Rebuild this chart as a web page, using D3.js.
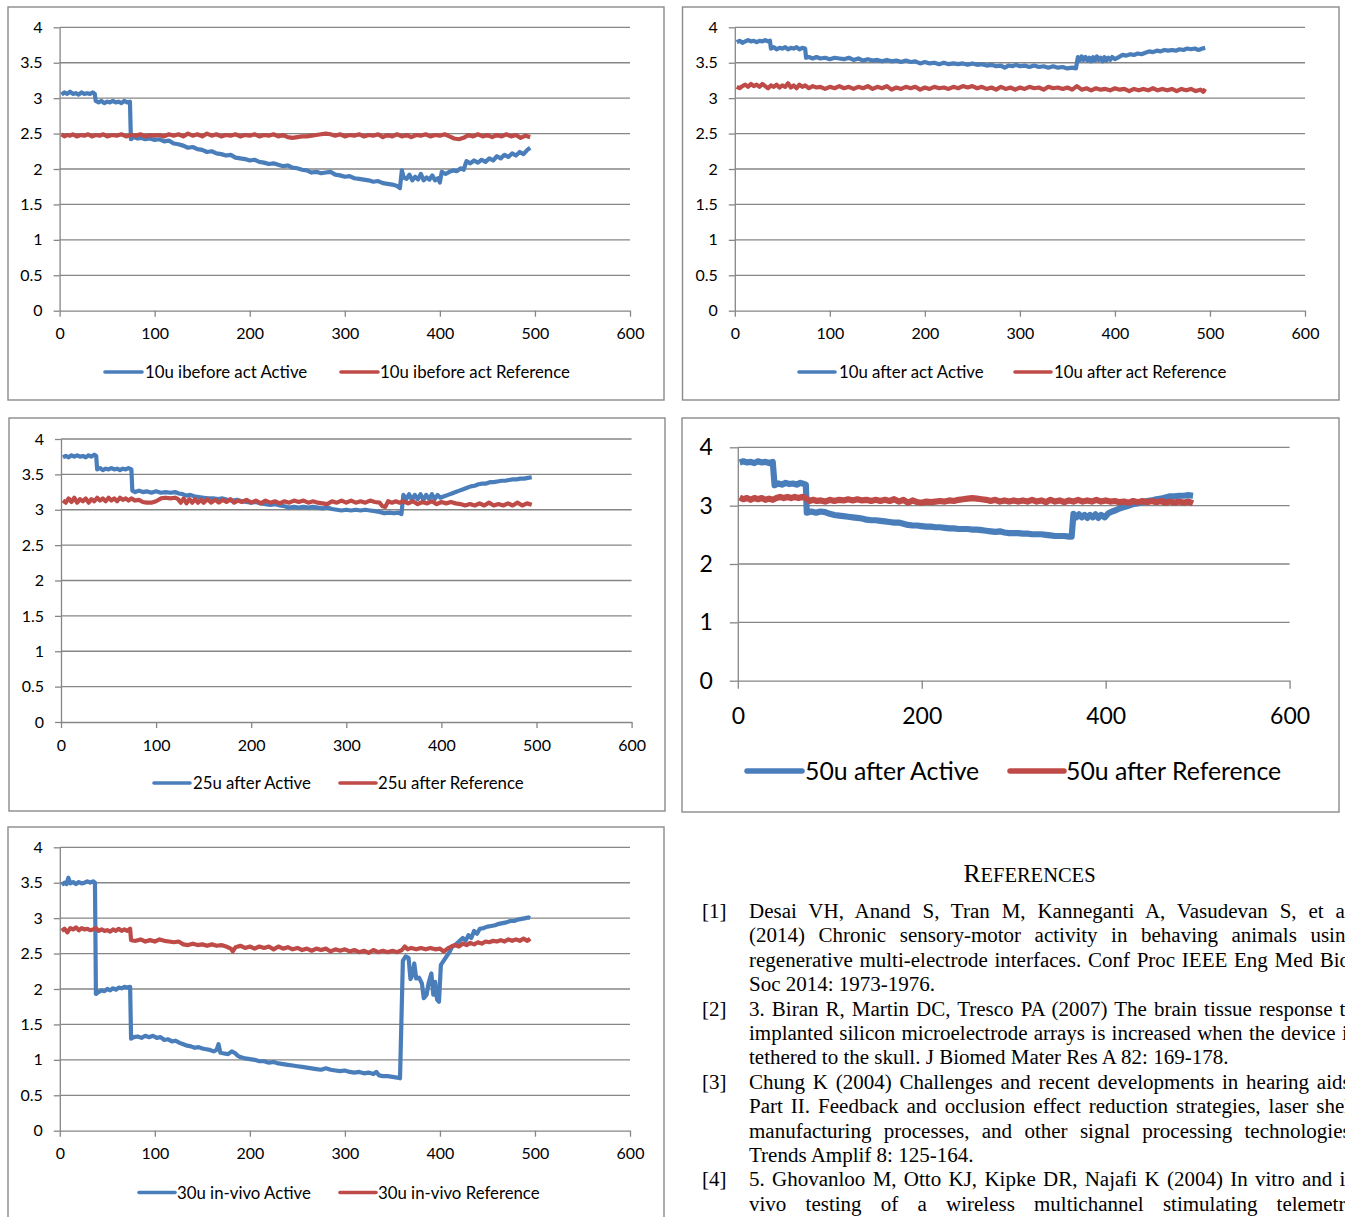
<!DOCTYPE html>
<html>
<head>
<meta charset="utf-8">
<script src="https://cdn.jsdelivr.net/npm/d3@7"></script>
<style>
  html, body { margin: 0; padding: 0; background: #fff; overflow: hidden; }
  #page { position: relative; width: 1345px; height: 1217px; overflow: hidden; }
  #page svg { position: absolute; left: 0; top: 0; }
  .refline {
    position: absolute;
    font-family: "Liberation Serif", "Times New Roman", serif;
    font-size: 20px;
    line-height: 24.4px;
    white-space: nowrap;
    transform-origin: 0 0;
    transform: scaleX(1.05);
    color: #000;
  }
  .just { text-align: justify; text-align-last: justify; }
</style>
</head>
<body>
<div id="page"></div>
<script>
window.onload = () => {

  // ---- data ----
  const xTicks = [0, 100, 200, 300, 400, 500, 600];
  const yTicks = [0, 0.5, 1, 1.5, 2, 2.5, 3, 3.5, 4];
  const xTicksWide = [0, 200, 400, 600];
  const yTicksWide = [0, 1, 2, 3, 4];

  const c1Names = ['10u ibefore act Active', '10u ibefore act Reference'];
  const c2Names = ['10u after act Active', '10u after act Reference'];
  const c3Names = ['25u after Active', '25u after Reference'];
  const c4Names = ['50u after Active', '50u after Reference'];
  const c5Names = ['30u in-vivo Active', '30u in-vivo Reference'];

  const c1Active = [[2,3.05],[5,3.08],[8,3.06],[11,3.09],[14,3.06],[17,3.07],[20,3.05],[23,3.08],[26,3.06],[29,3.07],[32,3.06],[35,3.08],[37,3.06],
    [38,2.96],[41,2.94],[44,2.96],[47,2.93],[50,2.95],[53,2.94],[56,2.96],[59,2.94],[62,2.95],[65,2.93],[68,2.96],[71,2.94],[74,2.95],
    [75,2.42],[78,2.45],[82,2.43],[86,2.44],[90,2.42],[95,2.43],[100,2.41],[105,2.42],[110,2.39],[115,2.40],[120,2.36],[125,2.35],[130,2.33],[135,2.30],[140,2.31],[145,2.28],[150,2.27],[155,2.24],[160,2.25],[165,2.22],[170,2.21],[175,2.19],[180,2.20],[185,2.16],[190,2.15],[195,2.14],[200,2.12],[205,2.13],[210,2.10],[215,2.09],[220,2.07],[225,2.08],[230,2.06],[235,2.04],[240,2.05],[245,2.02],[250,2.01],[255,1.99],[260,1.98],[265,1.95],[270,1.96],[275,1.94],[280,1.95],[285,1.96],[290,1.92],[295,1.91],[300,1.89],[305,1.90],[310,1.87],[315,1.86],[320,1.85],[325,1.84],[330,1.82],[335,1.83],[340,1.80],[345,1.79],[350,1.78],[355,1.76],[358,1.73],
    [360,1.98],[362,1.88],[365,1.86],[368,1.92],[371,1.84],[374,1.89],[377,1.85],[380,1.93],[383,1.84],[386,1.88],[389,1.85],[392,1.91],[395,1.84],[398,1.87],[400,1.81],[402,1.96],[406,1.93],[410,1.96],[414,1.98],[418,1.97],[422,2.01],[425,1.99],[428,2.11],[432,2.08],[436,2.12],[440,2.09],[444,2.13],[448,2.10],[452,2.15],[456,2.12],[460,2.18],[464,2.15],[468,2.20],[472,2.17],[476,2.22],[480,2.19],[484,2.24],[488,2.21],[492,2.27],[495,2.30]];
  const c1Reference = [[2,2.49],[5,2.46],[8,2.48],[11,2.47],[14,2.49],[18,2.46],[22,2.48],[26,2.47],[30,2.49],[34,2.46],[38,2.48],[42,2.47],[46,2.49],[50,2.46],[55,2.48],[60,2.47],[65,2.49],[70,2.46],[75,2.48],[80,2.47],[85,2.49],[90,2.46],[95,2.48],[100,2.47],[105,2.48],[110,2.46],[115,2.49],[120,2.47],[125,2.49],[130,2.46],[135,2.50],[140,2.47],[145,2.49],[150,2.46],[155,2.50],[160,2.47],[165,2.49],[170,2.46],[175,2.48],[180,2.47],[185,2.49],[190,2.46],[195,2.48],[200,2.47],[205,2.49],[210,2.46],[215,2.48],[220,2.47],[225,2.49],[230,2.46],[235,2.48],[240,2.45],[245,2.44],[250,2.45],[255,2.46],[260,2.46],[265,2.47],[270,2.48],[275,2.49],[280,2.50],[285,2.49],[290,2.47],[295,2.49],[300,2.46],[305,2.48],[310,2.47],[315,2.49],[320,2.46],[325,2.48],[330,2.47],[335,2.49],[340,2.45],[345,2.48],[350,2.46],[355,2.49],[360,2.46],[365,2.48],[370,2.45],[375,2.48],[380,2.47],[385,2.49],[390,2.46],[395,2.48],[400,2.47],[405,2.49],[410,2.46],[415,2.43],[420,2.42],[425,2.44],[430,2.48],[435,2.46],[440,2.49],[445,2.46],[450,2.48],[455,2.45],[460,2.48],[465,2.46],[470,2.49],[475,2.46],[480,2.48],[485,2.44],[490,2.47],[495,2.45]];

  const c2Active = [[2,3.79],[5,3.81],[8,3.78],[11,3.80],[14,3.82],[17,3.80],[20,3.81],[23,3.79],[26,3.81],[29,3.80],[32,3.82],[35,3.80],[37,3.81],
    [38,3.70],[41,3.72],[44,3.69],[47,3.71],[50,3.70],[53,3.72],[56,3.69],[59,3.71],[62,3.70],[65,3.72],[68,3.69],[71,3.71],[74,3.70],
    [75,3.57],[78,3.58],[82,3.56],[86,3.58],[90,3.56],[95,3.57],[100,3.55],[105,3.57],[110,3.56],[115,3.55],[120,3.57],[125,3.54],[130,3.56],[135,3.53],[140,3.55],[145,3.53],[150,3.54],[155,3.52],[160,3.54],[165,3.52],[170,3.53],[175,3.51],[180,3.53],[185,3.51],[190,3.52],[195,3.49],[200,3.51],[205,3.49],[210,3.50],[215,3.48],[220,3.50],[225,3.48],[230,3.49],[235,3.48],[240,3.49],[245,3.47],[250,3.49],[255,3.47],[260,3.48],[265,3.46],[270,3.47],[275,3.45],[280,3.46],[284,3.43],[288,3.46],[292,3.45],[296,3.47],[300,3.45],[305,3.46],[310,3.44],[315,3.46],[320,3.44],[325,3.45],[330,3.43],[335,3.45],[340,3.43],[345,3.44],[350,3.42],[355,3.43],[359,3.42],
    [361,3.58],[363,3.53],[365,3.59],[367,3.54],[369,3.58],[371,3.53],[373,3.57],[375,3.52],[377,3.58],[379,3.53],[381,3.59],[383,3.54],[385,3.57],[387,3.52],[389,3.58],[391,3.53],[393,3.57],[395,3.54],[397,3.58],[400,3.55],[404,3.58],[408,3.61],[412,3.60],[416,3.62],[420,3.61],[424,3.63],[428,3.62],[432,3.64],[436,3.66],[440,3.65],[444,3.67],[448,3.66],[452,3.68],[456,3.67],[460,3.68],[464,3.67],[468,3.69],[472,3.68],[476,3.70],[480,3.69],[484,3.70],[488,3.68],[492,3.70],[495,3.71]];
  const c2Reference = [[2,3.16],[5,3.14],[8,3.17],[11,3.19],[14,3.16],[17,3.20],[20,3.17],[23,3.19],[26,3.16],[29,3.20],[32,3.17],[35,3.14],[38,3.18],[41,3.16],[44,3.19],[47,3.15],[50,3.18],[53,3.16],[56,3.21],[59,3.15],[62,3.18],[65,3.14],[68,3.19],[71,3.16],[74,3.18],[78,3.14],[82,3.17],[86,3.15],[90,3.16],[95,3.13],[100,3.16],[105,3.14],[110,3.17],[115,3.14],[120,3.16],[125,3.13],[130,3.16],[135,3.14],[140,3.17],[145,3.13],[150,3.16],[155,3.14],[160,3.17],[165,3.12],[170,3.15],[175,3.13],[180,3.16],[185,3.14],[190,3.16],[195,3.12],[200,3.15],[205,3.13],[210,3.16],[215,3.14],[220,3.15],[225,3.13],[230,3.16],[235,3.14],[240,3.17],[245,3.15],[250,3.17],[255,3.14],[260,3.16],[265,3.13],[270,3.15],[275,3.12],[280,3.16],[285,3.13],[290,3.15],[295,3.12],[300,3.15],[305,3.13],[310,3.16],[315,3.14],[320,3.15],[325,3.12],[330,3.16],[335,3.14],[340,3.15],[345,3.13],[350,3.15],[355,3.12],[360,3.17],[365,3.12],[370,3.14],[375,3.11],[380,3.14],[385,3.12],[390,3.13],[395,3.11],[400,3.14],[405,3.12],[410,3.13],[415,3.10],[420,3.13],[425,3.11],[430,3.13],[435,3.11],[440,3.14],[445,3.11],[450,3.13],[455,3.11],[460,3.13],[465,3.10],[470,3.13],[475,3.11],[480,3.13],[485,3.10],[490,3.12],[493,3.09],[495,3.13]];

  const c3Active = [[2,3.74],[5,3.76],[8,3.74],[11,3.77],[14,3.75],[17,3.77],[20,3.75],[23,3.76],[26,3.74],[29,3.77],[32,3.75],[35,3.78],[37,3.76],
    [38,3.57],[41,3.59],[44,3.56],[47,3.58],[50,3.57],[53,3.59],[56,3.57],[59,3.58],[62,3.56],[65,3.58],[68,3.57],[71,3.59],[74,3.57],
    [75,3.27],[78,3.25],[82,3.27],[86,3.25],[90,3.26],[95,3.24],[100,3.26],[105,3.24],[110,3.25],[115,3.24],[120,3.25],[124,3.23],[128,3.22],[132,3.20],[136,3.21],[140,3.19],[145,3.18],[150,3.17],[155,3.16],[160,3.16],[165,3.15],[170,3.16],[175,3.14],[180,3.13],[185,3.14],[190,3.12],[195,3.11],[200,3.10],[205,3.11],[210,3.09],[215,3.08],[220,3.07],[225,3.08],[230,3.06],[235,3.05],[240,3.03],[245,3.04],[250,3.03],[255,3.04],[260,3.03],[265,3.04],[270,3.03],[275,3.02],[280,3.03],[285,3.01],[290,3.00],[295,2.99],[300,3.00],[305,2.99],[310,3.00],[315,2.99],[320,3.00],[325,2.99],[330,2.98],[335,2.97],[340,2.95],[345,2.96],[350,2.95],[355,2.96],[358,2.94],
    [360,3.21],[363,3.15],[366,3.22],[369,3.14],[372,3.21],[375,3.15],[378,3.22],[381,3.14],[384,3.21],[387,3.15],[390,3.22],[393,3.15],[396,3.21],[399,3.17],[403,3.19],[407,3.21],[411,3.23],[415,3.25],[419,3.27],[423,3.29],[427,3.31],[431,3.33],[435,3.34],[439,3.36],[443,3.37],[447,3.37],[451,3.39],[455,3.39],[459,3.40],[463,3.41],[467,3.41],[471,3.42],[475,3.43],[479,3.43],[483,3.44],[487,3.44],[491,3.45],[495,3.46]];
  const c3Reference = [[2,3.13],[5,3.10],[8,3.16],[11,3.11],[14,3.17],[17,3.10],[20,3.15],[23,3.12],[26,3.16],[29,3.10],[32,3.15],[35,3.12],[38,3.17],[41,3.13],[44,3.16],[47,3.12],[50,3.17],[53,3.13],[56,3.16],[59,3.12],[62,3.17],[65,3.14],[68,3.16],[71,3.13],[74,3.16],[78,3.13],[82,3.14],[86,3.11],[90,3.10],[95,3.10],[100,3.12],[105,3.16],[110,3.17],[115,3.16],[120,3.17],[123,3.15],[126,3.10],[129,3.16],[132,3.09],[135,3.15],[138,3.10],[141,3.15],[144,3.10],[147,3.14],[150,3.10],[154,3.15],[158,3.10],[162,3.14],[166,3.10],[170,3.14],[174,3.11],[178,3.15],[182,3.10],[186,3.13],[190,3.11],[195,3.14],[200,3.10],[205,3.13],[210,3.09],[215,3.13],[220,3.10],[225,3.12],[230,3.09],[235,3.12],[240,3.10],[245,3.13],[250,3.11],[255,3.13],[260,3.10],[265,3.12],[270,3.10],[275,3.09],[280,3.08],[285,3.12],[290,3.10],[295,3.13],[300,3.10],[305,3.13],[310,3.10],[315,3.12],[320,3.10],[325,3.13],[330,3.11],[335,3.10],[338,3.05],[341,3.04],[344,3.12],[348,3.10],[352,3.12],[356,3.10],[360,3.12],[365,3.09],[370,3.12],[375,3.08],[380,3.11],[385,3.09],[390,3.12],[395,3.08],[400,3.11],[405,3.09],[410,3.11],[415,3.09],[420,3.08],[425,3.06],[430,3.08],[435,3.06],[440,3.09],[445,3.06],[450,3.10],[455,3.06],[460,3.08],[465,3.06],[470,3.09],[475,3.06],[480,3.10],[485,3.06],[490,3.09],[495,3.07]];

  const c4Active = [[2,3.74],[6,3.76],[10,3.74],[14,3.75],[18,3.73],[22,3.76],[26,3.74],[30,3.75],[34,3.73],[38,3.75],
    [40,3.35],[44,3.38],[48,3.36],[52,3.39],[56,3.37],[60,3.38],[64,3.36],[68,3.39],[72,3.37],[74,3.36],
    [75,2.88],[80,2.90],[85,2.88],[90,2.90],[95,2.89],[100,2.86],[105,2.84],[110,2.83],[115,2.82],[120,2.81],[125,2.80],[130,2.79],[135,2.78],[140,2.76],[145,2.75],[150,2.75],[155,2.74],[160,2.73],[165,2.72],[170,2.71],[175,2.71],[180,2.69],[185,2.67],[190,2.66],[195,2.66],[200,2.65],[205,2.64],[210,2.64],[215,2.63],[220,2.63],[225,2.62],[230,2.61],[235,2.61],[240,2.60],[245,2.60],[250,2.60],[255,2.59],[260,2.59],[265,2.58],[270,2.57],[275,2.56],[280,2.55],[285,2.56],[290,2.54],[295,2.53],[300,2.53],[305,2.53],[310,2.52],[315,2.52],[320,2.51],[325,2.51],[330,2.51],[335,2.50],[340,2.49],[345,2.48],[350,2.48],[355,2.48],[360,2.47],[363,2.47],
    [365,2.86],[368,2.80],[371,2.85],[374,2.80],[377,2.84],[380,2.79],[383,2.84],[386,2.80],[389,2.85],[392,2.79],[395,2.84],[399,2.80],[403,2.87],[407,2.90],[411,2.92],[415,2.95],[419,2.97],[423,2.99],[427,3.01],[431,3.03],[435,3.04],[440,3.06],[445,3.08],[450,3.09],[455,3.11],[460,3.12],[465,3.14],[470,3.16],[475,3.16],[480,3.17],[485,3.17],[490,3.18],[495,3.17]];
  const c4Reference = [[2,3.14],[6,3.11],[10,3.13],[14,3.10],[18,3.13],[22,3.11],[26,3.13],[30,3.10],[34,3.12],[38,3.10],[42,3.13],[46,3.15],[50,3.13],[54,3.15],[58,3.13],[62,3.15],[66,3.13],[70,3.15],[74,3.13],[78,3.08],[82,3.10],[86,3.08],[90,3.09],[95,3.07],[100,3.10],[105,3.08],[110,3.10],[115,3.09],[120,3.11],[125,3.09],[130,3.11],[135,3.09],[140,3.10],[145,3.08],[150,3.10],[155,3.08],[160,3.10],[165,3.08],[170,3.11],[175,3.07],[180,3.10],[185,3.05],[190,3.09],[195,3.06],[200,3.05],[205,3.07],[210,3.06],[215,3.07],[220,3.08],[225,3.07],[230,3.09],[235,3.08],[240,3.10],[245,3.11],[250,3.12],[255,3.13],[260,3.12],[265,3.11],[270,3.10],[275,3.08],[280,3.10],[285,3.07],[290,3.09],[295,3.07],[300,3.09],[305,3.07],[310,3.09],[315,3.07],[320,3.10],[325,3.07],[330,3.09],[335,3.06],[340,3.10],[345,3.07],[350,3.09],[355,3.06],[360,3.09],[365,3.07],[370,3.10],[375,3.07],[380,3.09],[385,3.07],[390,3.10],[395,3.07],[400,3.09],[405,3.07],[410,3.08],[415,3.06],[420,3.07],[425,3.05],[430,3.08],[435,3.06],[440,3.08],[445,3.06],[450,3.08],[455,3.06],[460,3.08],[465,3.05],[470,3.07],[475,3.05],[480,3.07],[485,3.05],[490,3.07],[495,3.04]];

  const c5Active = [[2,3.47],[5,3.50],[7,3.48],[9,3.57],[11,3.49],[14,3.51],[17,3.48],[20,3.51],[23,3.49],[26,3.50],[29,3.52],[32,3.50],[35,3.52],[37,3.50],
    [38,1.93],[41,1.96],[44,1.98],[47,1.97],[50,2.00],[53,1.98],[56,2.01],[59,1.99],[62,2.02],[65,2.01],[68,2.03],[71,2.02],[74,2.03],
    [75,1.30],[78,1.32],[82,1.33],[86,1.31],[90,1.34],[94,1.32],[98,1.34],[102,1.31],[106,1.32],[110,1.28],[114,1.29],[118,1.26],[122,1.27],[126,1.24],[130,1.22],[134,1.20],[138,1.19],[142,1.17],[146,1.18],[150,1.16],[154,1.15],[158,1.14],[162,1.12],[165,1.14],[167,1.22],[169,1.10],[173,1.09],[177,1.08],[181,1.12],[184,1.10],[187,1.06],[190,1.04],[195,1.02],[200,1.01],[205,1.00],[210,0.98],[215,0.98],[220,0.96],[225,0.97],[230,0.95],[235,0.94],[240,0.93],[245,0.92],[250,0.91],[255,0.90],[260,0.89],[265,0.88],[270,0.87],[275,0.86],[280,0.88],[285,0.86],[290,0.85],[295,0.84],[300,0.85],[305,0.83],[310,0.82],[315,0.83],[320,0.81],[325,0.82],[330,0.80],[333,0.83],[336,0.78],[340,0.77],[345,0.77],[350,0.76],[355,0.75],[358,0.74],
    [361,2.40],[364,2.46],[367,2.44],[369,2.14],[371,2.20],[373,2.36],[375,2.15],[378,2.16],[381,2.08],[383,1.87],[386,1.92],[388,2.08],[391,2.22],[393,1.92],[395,2.10],[397,1.85],[399,1.82],[401,2.34],[404,2.40],[407,2.46],[410,2.52],[413,2.60],[416,2.62],[420,2.67],[424,2.72],[427,2.68],[430,2.76],[433,2.72],[436,2.82],[439,2.78],[442,2.85],[446,2.86],[450,2.88],[454,2.89],[458,2.90],[462,2.92],[466,2.93],[470,2.94],[474,2.96],[478,2.96],[482,2.98],[486,2.99],[490,3.00],[493,3.01],[495,3.00]];
  const c5Reference = [[2,2.82],[5,2.85],[8,2.80],[11,2.86],[14,2.84],[17,2.87],[20,2.83],[23,2.86],[26,2.84],[29,2.85],[32,2.83],[35,2.84],[38,2.86],[41,2.82],[44,2.84],[47,2.82],[50,2.83],[53,2.81],[56,2.84],[59,2.82],[62,2.85],[65,2.82],[68,2.84],[71,2.82],[74,2.85],
    [75,2.69],[80,2.68],[85,2.70],[90,2.67],[95,2.69],[100,2.67],[105,2.70],[110,2.68],[115,2.67],[120,2.66],[125,2.67],[130,2.63],[135,2.62],[140,2.64],[145,2.62],[150,2.63],[155,2.61],[160,2.63],[165,2.61],[170,2.62],[175,2.60],[180,2.57],[182,2.53],[185,2.59],[190,2.61],[195,2.58],[200,2.60],[205,2.57],[210,2.60],[215,2.58],[220,2.60],[225,2.56],[230,2.60],[235,2.57],[240,2.59],[245,2.56],[250,2.58],[255,2.55],[260,2.57],[265,2.54],[270,2.57],[275,2.55],[280,2.57],[285,2.53],[290,2.56],[295,2.54],[300,2.56],[305,2.53],[310,2.55],[315,2.52],[320,2.54],[325,2.51],[330,2.55],[335,2.52],[340,2.54],[345,2.52],[350,2.54],[355,2.52],[360,2.55],[363,2.60],[366,2.56],[370,2.58],[375,2.56],[380,2.58],[385,2.56],[390,2.58],[395,2.56],[400,2.57],[404,2.53],[408,2.57],[412,2.60],[416,2.62],[420,2.60],[424,2.64],[428,2.62],[432,2.65],[436,2.63],[440,2.66],[444,2.64],[448,2.67],[452,2.66],[456,2.68],[460,2.67],[464,2.69],[468,2.67],[472,2.70],[476,2.68],[480,2.70],[484,2.68],[488,2.71],[492,2.68],[495,2.71]];

  const refHeading = 'REFERENCES';
  const refLabels = ['[1]', '[2]', '[3]', '[4]'];
  const refTexts = [
    ['Desai VH, Anand S, Tran M, Kanneganti A, Vasudevan S, et al.',
     '(2014) Chronic sensory-motor activity in behaving animals using',
     'regenerative multi-electrode interfaces. Conf Proc IEEE Eng Med Biol',
     'Soc 2014: 1973-1976.'],
    ['3. Biran R, Martin DC, Tresco PA (2007) The brain tissue response to',
     'implanted silicon microelectrode arrays is increased when the device is',
     'tethered to the skull. J Biomed Mater Res A 82: 169-178.'],
    ['Chung K (2004) Challenges and recent developments in hearing aids.',
     'Part II. Feedback and occlusion effect reduction strategies, laser shell',
     'manufacturing processes, and other signal processing technologies.',
     'Trends Amplif 8: 125-164.'],
    ['5. Ghovanloo M, Otto KJ, Kipke DR, Najafi K (2004) In vitro and in',
     'vivo testing of a wireless multichannel stimulating telemetry']
  ];
  // last entry runs on past the bottom of the page
  const refContinues = [false, false, false, true];

  // ---- layout ----
  const blue = '#4a7ebb';
  const red = '#be4b48';
  const gridColor = '#868686';
  const font = 'Lato, "Open Sans", sans-serif';

  const small = { xTicks, yTicks, tick: 6, yPad: 11, xBase: 28.5, fs: 16, lw: 4.2, legFs: 16.8, legLw: 3.6 };
  const charts = [
    Object.assign({}, small, { box: [8, 7, 656, 393], px: [59.6, 630], py: [310.7, 27.3], names: c1Names, series: [c1Active, c1Reference],
      legY: 372, leg: [[105, 142, 145], [341, 378, 380]] }),
    Object.assign({}, small, { box: [682.5, 7, 656.5, 393], px: [734.8, 1305], py: [310.7, 27.3], names: c2Names, series: [c2Active, c2Reference],
      legY: 372, leg: [[799, 835, 839], [1015, 1051, 1054]] }),
    Object.assign({}, small, { box: [9, 418, 656, 393], px: [61, 631.6], py: [722, 439], names: c3Names, series: [c3Active, c3Reference],
      legY: 783, leg: [[154, 190, 193], [340, 376, 378]] }),
    { xTicks: xTicksWide, yTicks: yTicksWide, tick: 8, yPad: 17, xBase: 43.3, fs: 23, lw: 6.2, legFs: 24.8, legLw: 5.5,
      box: [682, 418, 657, 394], px: [737.8, 1289.6], py: [680.7, 447.3], names: c4Names, series: [c4Active, c4Reference],
      legY: 771, leg: [[747, 802, 805], [1010, 1064, 1066]] },
    Object.assign({}, small, { box: [8, 827, 656, 420], px: [59.8, 630], py: [1130.7, 847.3], names: c5Names, series: [c5Active, c5Reference],
      legY: 1192.5, leg: [[139, 175, 177], [340, 376, 378]] })
  ];

  const page = d3.select('#page');
  const svg = page.append('svg').attr('width', 1345).attr('height', 1217);

  function drawChart(cfg) {
    const g = svg.append('g');
    const x = d3.scaleLinear().domain([0, 600]).range(cfg.px);
    const y = d3.scaleLinear().domain([0, 4]).range(cfg.py);

    g.append('rect')
      .attr('x', cfg.box[0]).attr('y', cfg.box[1])
      .attr('width', cfg.box[2]).attr('height', cfg.box[3])
      .attr('fill', '#fff').attr('stroke', '#8a8a8a').attr('stroke-width', 1.4);

    // horizontal gridlines
    g.append('g').selectAll('line')
      .data(cfg.yTicks.filter(d => d > 0))
      .join('line')
      .attr('x1', x(0)).attr('x2', x(600))
      .attr('y1', d => y(d)).attr('y2', d => y(d))
      .attr('stroke', gridColor).attr('stroke-width', 1.3);

    const yAxis = g.append('g')
      .attr('transform', `translate(${x(0)},0)`)
      .call(d3.axisLeft(y).tickValues(cfg.yTicks).tickSize(cfg.tick).tickSizeOuter(0)
        .tickPadding(cfg.yPad).tickFormat(d => String(d)));

    const xAxis = g.append('g')
      .attr('transform', `translate(0,${y(0)})`)
      .call(d3.axisBottom(x).tickValues(cfg.xTicks).tickSize(cfg.tick).tickSizeOuter(0).tickFormat(d => String(d)));

    [yAxis, xAxis].forEach(a => {
      a.selectAll('.domain, line').attr('stroke', gridColor).attr('stroke-width', 1.3);
      a.selectAll('text').attr('fill', '#000').style('font-family', font).style('font-size', cfg.fs + 'px');
    });
    xAxis.selectAll('text').attr('y', cfg.xBase).attr('dy', null);

    const line = d3.line().x(d => x(d[0])).y(d => y(d[1]));
    g.append('g').selectAll('path')
      .data(cfg.series)
      .join('path')
      .attr('d', line)
      .attr('fill', 'none')
      .attr('stroke', (d, i) => i === 0 ? blue : red)
      .attr('stroke-width', cfg.lw)
      .attr('stroke-linejoin', 'round');

    // legend
    const leg = g.append('g').selectAll('g').data(cfg.names).join('g');
    leg.append('line')
      .attr('x1', (d, i) => cfg.leg[i][0]).attr('x2', (d, i) => cfg.leg[i][1])
      .attr('y1', cfg.legY).attr('y2', cfg.legY)
      .attr('stroke', (d, i) => i === 0 ? blue : red)
      .attr('stroke-width', cfg.legLw).attr('stroke-linecap', 'round');
    leg.append('text')
      .attr('x', (d, i) => cfg.leg[i][2]).attr('y', cfg.legY).attr('dy', '0.36em')
      .style('font-family', font).style('font-size', cfg.legFs + 'px')
      .attr('fill', '#000')
      .text(d => d);
  }

  charts.forEach(drawChart);

  // References heading in small caps
  const head = svg.append('text')
    .attr('x', 1029.5).attr('y', 882).attr('text-anchor', 'middle')
    .style('font-family', '"Liberation Serif", "Times New Roman", serif');
  head.append('tspan').style('font-size', '25.5px').text(refHeading.slice(0, 1));
  head.append('tspan').style('font-size', '20.5px').text(refHeading.slice(1));

  // Reference list, one justified line per row
  const firstBaseline = 918;
  const lineStep = 24.4;
  const baselineInBox = 18.95;
  const textLeft = 749;
  const textWidth = 578;
  let row = 0;
  refTexts.forEach((lines, k) => {
    page.append('div').attr('class', 'refline')
      .style('left', '702px')
      .style('top', (firstBaseline + row * lineStep - baselineInBox) + 'px')
      .text(refLabels[k]);
    lines.forEach((txt, j) => {
      const last = j === lines.length - 1 && !refContinues[k];
      page.append('div').attr('class', 'refline' + (last ? '' : ' just'))
        .style('left', textLeft + 'px')
        .style('top', (firstBaseline + row * lineStep - baselineInBox) + 'px')
        .style('width', textWidth + 'px')
        .text(txt);
      row++;
    });
  });
};
</script>
</body>
</html>
